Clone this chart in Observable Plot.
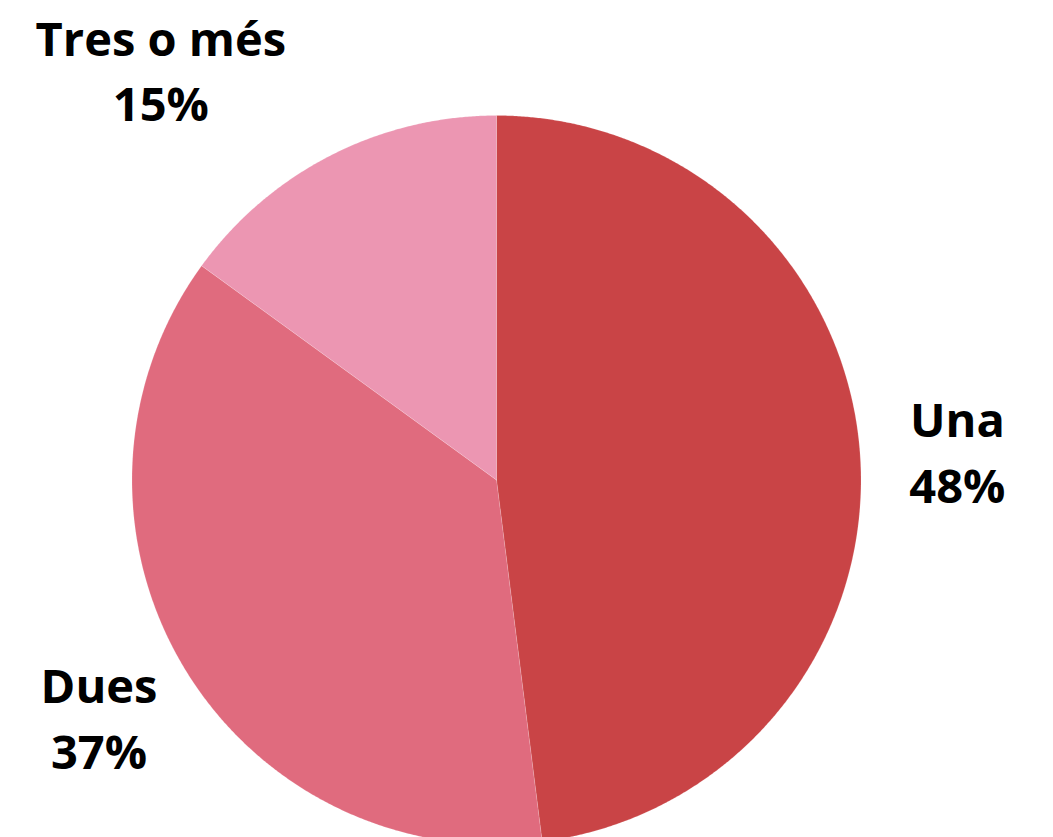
<!DOCTYPE html>
<html>
<head>
<meta charset="utf-8">
<script src="https://cdn.jsdelivr.net/npm/d3@7"></script>
<script src="https://cdn.jsdelivr.net/npm/@observablehq/plot@0.6"></script>
<style>
  html, body { margin: 0; padding: 0; background: #fff; }
  #chart { width: 1053px; height: 837px; overflow: hidden; }
</style>
</head>
<body>
<div id="chart"></div>
<script>
const categories = ["Una", "Dues", "Tres o més"];
const values = [48, 37, 15];
const labels = ["48%", "37%", "15%"];
const colors = ["#c94446", "#e06b7e", "#ec96b2"];

const W = 1053, H = 837;
const R = 364.5;            // pie radius in pixels
const cx = 496, cy = 479.5; // pie centre in pixels
const labelRadius = 1.267;  // in pie radii
const labelShift = {"Tres o més": [-126 / R, -1 / R], "Una": [0, -2 / R], "Dues": [0, 0]};

const arcs = d3.pie().sort(null)(values);
const pt = (a, r) => [r * Math.sin(a), -r * Math.cos(a)];

// slice outlines (geometry of each arc)
const polys = [];
arcs.forEach((d, i) => {
  const cat = categories[i];
  polys.push({cat, x: 0, y: 0});
  const n = Math.max(2, Math.ceil((d.endAngle - d.startAngle) / 0.005));
  for (let k = 0; k <= n; k++) {
    const a = d.startAngle + (d.endAngle - d.startAngle) * k / n;
    const [x, y] = pt(a, 1);
    polys.push({cat, x, y});
  }
  polys.push({cat, x: 0, y: 0});
});

const labelData = arcs.map((d, i) => {
  const mid = (d.startAngle + d.endAngle) / 2;
  let [x, y] = pt(mid, labelRadius);
  const s = labelShift[categories[i]];
  if (s) { x += s[0]; y += s[1]; }
  return {x, y, text: categories[i] + "\n" + labels[i]};
});

const chart = Plot.plot({
  width: W,
  height: H,
  margin: 0,
  x: {domain: [-cx / R, (W - cx) / R], range: [0, W], axis: null},
  y: {domain: [-cy / R, (H - cy) / R], range: [0, H], axis: null},
  color: {domain: categories, range: colors},
  style: {background: "#fff"},
  marks: [
    Plot.line(polys, {x: "x", y: "y", z: "cat", fill: "cat", stroke: "#fff", strokeWidth: 0.5, strokeOpacity: 0.3, curve: "linear-closed"}),
    Plot.text(labelData, {
      x: "x", y: "y", text: "text",
      fontSize: 47, fontWeight: "bold", fontFamily: "Open Sans",
      lineHeight: 1.4, textAnchor: "middle", fill: "#000"
    })
  ]
});
document.getElementById("chart").appendChild(chart);
</script>
</body>
</html>
